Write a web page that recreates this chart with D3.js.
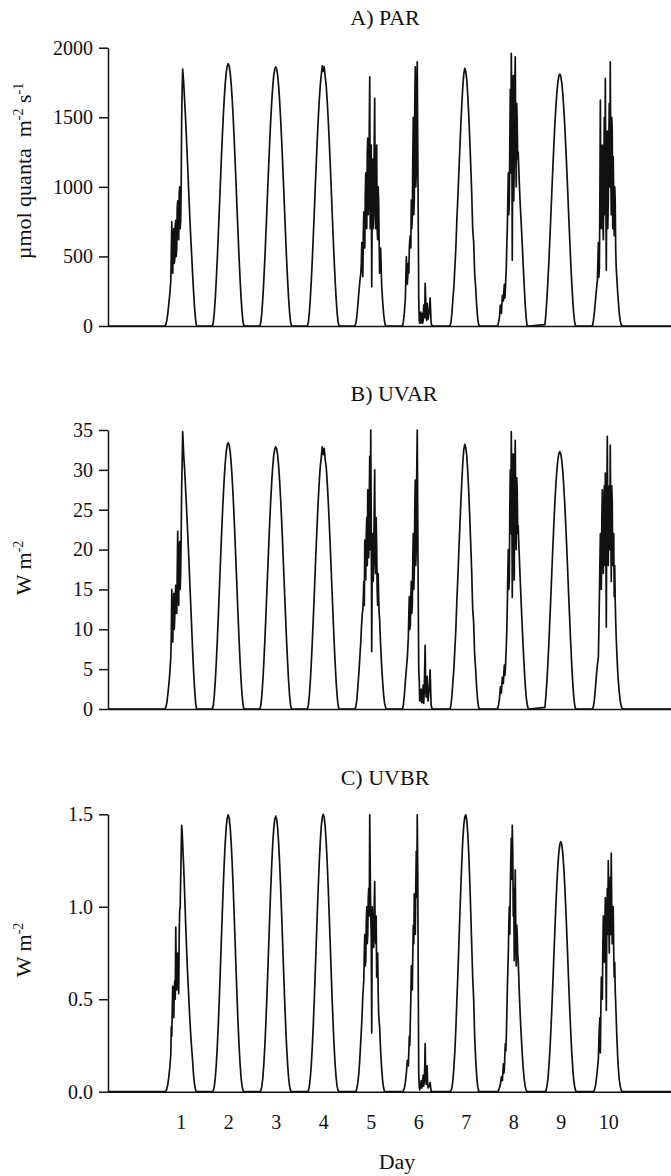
<!DOCTYPE html>
<html><head><meta charset="utf-8">
<script src="https://cdn.jsdelivr.net/npm/d3@7"></script>
<style>
body{margin:0;background:#fff;}
svg{display:block;}
text{font-family:"Liberation Serif","Times New Roman",serif;fill:#111;white-space:pre;}
</style></head><body>
<svg id="chart" width="671" height="1176"></svg>
<script>
// ---- data ----
const dayLabels = ["1","2","3","4","5","6","7","8","9","10"];
// sampling hours within each day (local time), half-hourly
const hours = [4,4.5,5,5.5,6,6.5,7,7.5,8,8.5,9,9.5,10,10.5,11,11.5,12,12.5,13,13.5,14,14.5,15,15.5,16,16.5,17,17.5,18,18.5,19,19.5,20];
// extra readings at the quarter hours on cloudy days
const quarterHours = [7.25,7.75,8.25,8.75,9.25,9.75,10.25,10.75,11.25,11.75,12.25,12.75,13.25,13.75,14.25,14.75,15.25,15.75,16.25,16.75];

// PAR, µmol quanta m-2 s-1, one row per day
const parByDay = [
 [0,10,40,90,160,230,320,750,380,700,480,760,560,900,620,1000,760,1500,1846,1750,1620,1480,1320,1160,980,820,660,520,380,250,130,50,0],
 [0,28,100,204,336,486,656,829,1010,1186,1352,1504,1634,1742,1821,1868,1885,1868,1821,1742,1634,1504,1352,1186,1010,829,656,486,336,204,100,28,0],
 [0,28,99,201,331,480,648,819,998,1171,1335,1486,1614,1720,1799,1845,1862,1845,1799,1720,1614,1486,1335,1171,998,819,648,480,331,201,99,28,0],
 [0,28,99,202,333,482,651,823,1002,1176,1341,1492,1621,1728,1800,1870,1830,1865,1790,1728,1621,1492,1341,1176,1002,823,651,482,333,202,99,28,0],
 [0,20,70,150,240,320,380,600,354,820,560,1100,700,1350,900,1791,1000,282,1200,800,1636,700,1300,620,900,379,560,300,180,90,30,0,0],
 [0,30,100,200,498,300,450,560,650,905,780,1500,900,1863,1100,1899,762,43,60,20,90,40,120,307,60,163,50,100,201,20,0,0,0],
 [0,25,90,190,280,420,560,760,920,1100,1270,1440,1590,1720,1810,1851,1830,1770,1660,1520,1350,1160,960,700,600,380,280,150,60,10,0,0,0],
 [0,20,60,150,90,220,180,300,260,420,700,1100,900,1700,1959,474,1800,1200,1935,1000,1450,1250,1050,880,740,600,440,300,160,60,0,0,0],
 [10,90,195,322,467,630,796,970,1138,1298,1444,1569,1672,1748,1794,1810,1794,1748,1672,1569,1444,1298,1138,970,796,630,467,322,195,96,27,0,0],
 [0,40,100,180,260,330,600,420,1624,700,1300,620,1500,1779,402,1400,900,1600,1899,800,1400,1216,650,900,420,300,190,100,40,10,0,0,0]
];
const parQuarter = [
 [500,420,640,450,720,500,850,640,950,700,1000,1700,1800,1685,1550,1400,1240,1070,900,740],
 null, null, null,
 [450,500,650,600,950,750,1250,800,1400,700,1300,900,700,1300,900,1200,700,1000,600,480],
 [380,620,560,700,1200,800,1600,1000,1700,1300,200,20,100,50,20,150,60,200,40,100],
 null,
 [250,200,350,600,900,800,1300,1100,1600,1400,900,1700,1300,1600,1200,1150,960,810,670,520],
 null,
 [350,900,800,1200,750,1100,800,1000,1200,700,1300,1000,1200,1500,700,900,1000,550,360,240]
];
// UVAR, W m-2
const uvarByDay = [
 [0,0.2,0.8,1.8,3.0,4.5,6.5,15,8.4,14.5,11.5,15.5,12,22.3,13,21,17,28,34.8,32,30,27.5,25,22.3,19.5,16.5,13.5,10.5,7.5,4.8,2.6,0.9,0],
 [0,0.5,1.77,3.61,5.95,8.62,11.62,14.7,17.9,21.01,23.95,26.65,28.96,30.86,32.26,33.1,33.4,33.1,32.26,30.86,28.96,26.65,23.95,21.01,17.9,14.7,11.62,8.62,5.95,3.61,1.77,0.5,0],
 [0,0.49,1.74,3.55,5.86,8.49,11.45,14.48,17.63,20.69,23.59,26.25,28.52,30.4,31.78,32.6,32.9,32.6,31.78,30.4,28.52,26.25,23.59,20.69,17.63,14.48,11.45,8.49,5.86,3.55,1.74,0.49,0],
 [0,0.49,1.74,3.55,5.86,8.49,11.45,14.48,17.63,20.69,23.59,26.25,28.52,30.4,31.5,32.9,31.9,32.7,31.3,30.4,28.52,26.25,23.59,20.69,17.63,14.48,11.45,8.49,5.86,3.55,1.74,0.49,0],
 [0,0.3,1.2,2.8,4.5,6.5,8.5,11,12.4,16,21.2,16.2,24,27.5,19,31.7,35,7.2,22,18,30,17,20.5,13,14,11.2,8,5.5,3.5,1.8,0.7,0.2,0],
 [0,0.5,1.8,3.5,5,6.5,9,14.1,10.5,16,13,22,17,28.7,20,35,14,3.6,1.2,2.5,1.0,3,2,8.0,1.5,4.1,1.0,2.5,4.9,0.5,0,0,0],
 [0,0.45,1.6,3.4,5.0,7.5,10.0,13.6,16.5,19.7,22.8,25.8,28.5,30.9,32.5,33.2,32.8,31.8,29.8,27.3,24.2,20.8,17.2,12.6,10.8,6.8,5.0,2.7,1.1,0.2,0,0,0],
 [0,0.4,1.2,2.8,2.0,4.0,3.2,5.5,5.0,8.0,13,20,16,30,34.8,14,32,16.2,33.7,20,27.5,23,19.5,16.3,13.3,10.5,7.8,5.3,3.2,1.6,0.6,0.1,0],
 [0.2,1.7,3.5,5.75,8.33,11.24,14.21,17.31,20.32,23.16,25.78,28.0,29.85,31.2,32.0,32.3,32.0,31.2,29.85,28.0,25.78,23.16,20.32,17.31,14.21,11.24,8.33,5.75,3.5,1.7,0.5,0,0],
 [0,0.3,1.2,2.6,4.2,5.5,6.6,14,22,15,27.5,17,28,29.6,10.3,34.2,18,28,33.1,16,26,20,14.1,13.7,9,6,3.8,2.2,1.1,0.4,0.1,0,0]
];
const uvarQuarter = [
 [9,11,12,10,14,12,17,14,20,15,22,31,33.5,31,28.8,26.2,23.7,20.9,18,15],
 null, null, null,
 [10,12,14,13,18,22,18,23,26,20,24,19,16,25,20,24,15,17,12,9.5],
 [12,10,14,12,19,15,25,18,30,24,5,1.0,2.0,0.8,1.8,0.7,5,2.5,3.0,1.5],
 null,
 [4.5,4.2,6.5,10,17,15,25,22,28,26,20,30,24,29,22,21,17.8,14.8,11.9,9.1],
 null,
 [10,18,16,24,20,25,18,22,26,24,27,20,24,28,18,22,18,11,7.5,4.8]
];
// UVBR, W m-2
const uvbrByDay = [
 [0,0.003,0.015,0.04,0.08,0.13,0.20,0.30,0.57,0.40,0.60,0.89,0.55,0.75,0.53,0.98,1.15,1.44,1.34,1.22,1.07,0.91,0.77,0.64,0.53,0.42,0.32,0.24,0.17,0.09,0.04,0.01,0],
 [0,0.006,0.030,0.076,0.150,0.246,0.365,0.501,0.651,0.807,0.960,1.108,1.238,1.347,1.430,1.479,1.497,1.479,1.430,1.347,1.238,1.108,0.960,0.807,0.651,0.501,0.365,0.246,0.150,0.076,0.030,0.006,0],
 [0,0.006,0.030,0.076,0.149,0.244,0.364,0.499,0.648,0.803,0.955,1.103,1.232,1.341,1.423,1.472,1.490,1.472,1.423,1.341,1.232,1.103,0.955,0.803,0.648,0.499,0.364,0.244,0.149,0.076,0.030,0.006,0],
 [0,0.006,0.030,0.077,0.150,0.246,0.366,0.503,0.653,0.809,0.962,1.110,1.241,1.350,1.433,1.482,1.500,1.482,1.433,1.350,1.241,1.110,0.962,0.809,0.653,0.503,0.366,0.246,0.150,0.077,0.030,0.006,0],
 [0,0,0.02,0.05,0.10,0.18,0.28,0.38,0.52,0.60,0.85,0.71,1.0,0.85,1.10,1.497,0.95,0.317,0.90,0.78,1.136,0.80,0.62,0.75,0.42,0.35,0.22,0.13,0.06,0.02,0,0,0],
 [0,0.005,0.02,0.05,0.10,0.17,0.14,0.30,0.38,0.68,0.55,0.90,1.07,0.85,1.30,1.497,0.60,0.03,0.02,0.06,0.03,0.09,0.05,0.26,0.04,0.14,0.02,0.03,0.05,0,0,0,0],
 [0,0.005,0.02,0.06,0.13,0.22,0.34,0.49,0.63,0.79,0.95,1.10,1.24,1.36,1.44,1.485,1.497,1.47,1.40,1.29,1.15,0.98,0.80,0.62,0.50,0.30,0.18,0.09,0.03,0.005,0,0,0],
 [0,0.005,0.02,0.04,0.08,0.06,0.15,0.12,0.26,0.30,0.55,0.75,1.0,1.10,1.37,1.44,0.95,0.71,1.20,0.68,0.85,0.71,0.55,0.42,0.31,0.21,0.13,0.07,0.03,0.01,0,0,0],
 [0,0.005,0.027,0.069,0.135,0.222,0.330,0.453,0.588,0.729,0.867,1.000,1.118,1.217,1.291,1.336,1.352,1.336,1.291,1.217,1.118,1.000,0.867,0.729,0.588,0.453,0.330,0.222,0.135,0.069,0.027,0.005,0],
 [0,0,0.01,0.03,0.07,0.12,0.18,0.35,0.21,0.62,0.50,0.95,0.70,1.05,0.44,1.10,1.25,0.75,1.16,1.29,0.80,1.00,0.62,0.55,0.40,0.25,0.14,0.07,0.03,0.01,0,0,0]
];
const uvbrQuarter = [
 [0.35,0.45,0.42,0.55,0.50,0.68,0.70,0.60,0.85,1.0,1.30,1.40,1.28,1.15,0.99,0.84,0.70,0.58,0.47,0.37],
 null, null, null,
 [0.33,0.45,0.56,0.75,0.68,0.92,0.80,1.05,0.95,1.2,0.85,1.0,0.82,1.0,0.85,0.95,0.70,0.55,0.38,0.28],
 [0.22,0.25,0.50,0.58,0.75,0.80,0.95,1.10,1.05,1.2,0.10,0.01,0.04,0.02,0.06,0.03,0.12,0.08,0.10,0.04],
 null,
 [0.10,0.20,0.22,0.42,0.65,0.90,0.85,1.25,1.15,1.30,1.10,0.95,0.90,0.90,0.75,0.63,0.48,0.36,0.26,0.17],
 null,
 [0.28,0.40,0.45,0.55,0.80,0.75,0.90,0.80,0.90,0.85,0.95,1.05,0.85,1.0,0.95,0.75,0.70,0.48,0.32,0.19]
];
const parTicks = [0,500,1000,1500,2000];
const uvarTicks = [0,5,10,15,20,25,30,35];
const uvbrTicks = [0,0.5,1.0,1.5];
const panelTitles = ["A) PAR","B) UVAR","C) UVBR"];

// ---- drawing ----
const svg = d3.select("#chart");
const FONT = '"Liberation Serif","Times New Roman",serif';
const tStart = -1.03, tEnd = 10.82;
const x = d3.scaleLinear().domain([tStart, tEnd]).range([108, 671]);

const panels = [
  {title:panelTitles[0], tx:385, ty:25, data:parByDay, extra:parQuarter, ticks:parTicks, fmt:d3.format("d"),
   domain:[0,2000], range:[326,47.7],
   label:[["µmol quanta  m",0,22],["-2",-8,14],[" s",8,22],["-1",-8,14]], ly:171},
  {title:panelTitles[1], tx:394, ty:401, data:uvarByDay, extra:uvarQuarter, ticks:uvarTicks, fmt:d3.format("d"),
   domain:[0,35], range:[709,430],
   label:[["W m",0,22],["-2",-8,14]], ly:568},
  {title:panelTitles[2], tx:385, ty:785, data:uvbrByDay, extra:uvbrQuarter, ticks:uvbrTicks, fmt:d3.format(".1f"),
   domain:[0,1.5], range:[1091.7,814.3],
   label:[["W m",0,22],["-2",-8,14]], ly:950}
];

panels.forEach((p, pi) => {
  const y = d3.scaleLinear().domain(p.domain).range(p.range);

  svg.append("text").attr("x", p.tx).attr("y", p.ty)
    .attr("text-anchor","middle").attr("font-size",22).text(p.title);

  const lab = svg.append("text")
    .attr("transform", `translate(31,${p.ly}) rotate(-90)`)
    .attr("text-anchor","middle").attr("font-size",22);
  p.label.forEach(([s,dy,fs]) => lab.append("tspan").attr("dy",dy).attr("font-size",fs).text(s));

  const ya = svg.append("g").attr("transform",`translate(108,0)`)
    .call(d3.axisLeft(y).tickValues(p.ticks).tickFormat(p.fmt).tickSizeInner(9).tickSizeOuter(0).tickPadding(6));
  ya.attr("font-family", FONT).attr("font-size", 20);
  ya.selectAll("path,line").attr("stroke","#111").attr("stroke-width",1.5);
  ya.selectAll("text").attr("fill","#111");

  const xa = d3.axisBottom(x).tickSizeOuter(0).tickSizeInner(0);
  if (pi === 2) {
    xa.tickValues(dayLabels.map((d,i) => i + 0.5)).tickFormat((d,i) => dayLabels[i]).tickPadding(23);
  } else {
    xa.tickValues([]);
  }
  const xg = svg.append("g").attr("transform",`translate(0,${y(0)})`).call(xa);
  xg.attr("font-family", FONT).attr("font-size", 20);
  xg.selectAll("path").attr("stroke","#111").attr("stroke-width",1.5);
  xg.selectAll("line").remove();
  xg.selectAll("text").attr("fill","#111");

  const pts = [{t:tStart, v:0}];
  p.data.forEach((row, di) => {
    const dayPts = row.map((v, hi) => ({t: di + hours[hi]/24, v}));
    if (p.extra[di]) p.extra[di].forEach((v, qi) => dayPts.push({t: di + quarterHours[qi]/24, v}));
    dayPts.sort((a,b) => a.t - b.t);
    pts.push(...dayPts);
  });
  pts.push({t:tEnd, v:0});
  const line = d3.line().x(d => x(d.t)).y(d => y(d.v));
  svg.append("path").datum(pts).attr("d", line)
    .attr("fill","none").attr("stroke","#111").attr("stroke-width",1.7)
    .attr("stroke-linejoin","round");
});

svg.append("text").attr("x",397).attr("y",1169).attr("text-anchor","middle")
  .attr("font-size",22).text("Day");
</script>
</body></html>
